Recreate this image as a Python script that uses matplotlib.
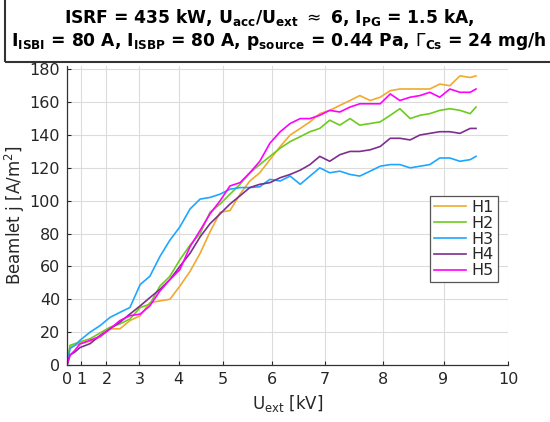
import numpy as np
import matplotlib
matplotlib.use('Agg')
import matplotlib.pyplot as plt
from matplotlib.patches import Rectangle

# Extraction voltage grid (kV)
u_ext = [0.00, 0.36, 0.69, 0.95, 1.40, 1.78, 2.12, 2.43, 2.73, 3.02,
         3.28, 3.54, 3.79, 4.03, 4.27, 4.50, 4.72, 4.94, 5.15, 5.36,
         5.56, 5.76, 5.96, 6.16, 6.35, 6.54, 6.72, 6.90, 7.08, 7.26,
         7.44, 7.61, 7.79, 7.96, 8.13, 8.29, 8.46, 8.62, 8.78, 8.94,
         9.10, 9.26, 9.42, 9.51]

# Beamlet current density (A/m^2) per beamlet
h1 = [0, 11, 12, 13, 14.5, 17, 22, 22, 27, 30,
      38, 39, 40, 48, 57, 68, 81, 93, 94, 104,
      112, 117, 125, 133, 140, 144, 148, 153, 155, 158,
      161, 164, 161, 163, 167, 168, 168, 168, 168, 171,
      170, 176, 175, 176]
h2 = [0, 12, 13, 14, 16, 19.5, 23, 25, 28, 35,
      37, 48, 54, 64, 73, 80, 93, 98, 104, 110,
      117, 122, 127, 132, 136, 139, 142, 144, 149, 146,
      150, 146, 147, 148, 152, 156, 150, 152, 153, 155,
      156, 155, 153, 157]
h3 = [0, 10, 12, 15, 20, 24, 29, 32, 35, 49,
      54, 66, 76, 84, 95, 101, 102, 104, 107, 108,
      108, 108.5, 113, 112, 115, 110, 115, 120, 117, 118,
      116, 115, 118, 121, 122, 122, 120, 121, 122, 126,
      126, 124, 125, 127]
h4 = [0, 6, 8, 10.6, 13, 18, 22, 26, 31, 36,
      41, 46, 52, 60, 68, 78, 86, 92, 98, 103,
      108, 110, 111, 114, 116, 118.6, 122, 127, 124, 128,
      130, 130, 131, 133, 138, 138, 137, 140, 141, 142,
      142, 141, 144, 144]
h5 = [0, 6, 9, 12.8, 15, 17.5, 22, 27, 30, 31,
      36, 45, 52, 58, 72, 82, 92, 100, 109, 111,
      117, 124, 135, 142, 147, 150, 150, 152, 155, 154,
      157, 159, 159, 159, 165, 161, 163, 164, 166, 163,
      168, 166, 166, 168]

series = [('H1', h1, '#F0AA2E'), ('H2', h2, '#6CCB1E'), ('H3', h3, '#1FA6FF'),
          ('H4', h4, '#7D2E8E'), ('H5', h5, '#FF00FF')]

txt = '#262626'
plt.rcParams['font.family'] = 'DejaVu Sans'
plt.rcParams['mathtext.fontset'] = 'dejavusans'

fig = plt.figure(figsize=(5.5, 4.22), dpi=100)
ax = fig.add_axes([67/550, 1-365/422, 441/550, 299/422])

for name, vals, col in series:
    ax.plot(u_ext, vals, color=col, lw=1.2, label=name)

# x axis is linear in U^1.5
ax.set_xscale('function', functions=(lambda x: np.sign(x)*np.abs(x)**1.5,
                                     lambda x: np.sign(x)*np.abs(x)**(2/3)))
ax.set_xlim(0, 10)
ax.set_ylim(0, 182)
ax.set_xticks(range(0, 11))
ax.set_yticks(range(0, 181, 20))
ax.grid(True, color='#dcdcdc', lw=0.8)
ax.set_axisbelow(True)
for s in ['top', 'right']:
    ax.spines[s].set_visible(False)
for s in ['left', 'bottom']:
    ax.spines[s].set_color('#333333')
    ax.spines[s].set_linewidth(0.9)
ax.tick_params(direction='in', length=3, labelsize=11.5, colors=txt, pad=5)

ax.set_xlabel(r'U$_{\rm ext}$ [kV]', fontsize=12, color=txt, labelpad=4)
ax.set_ylabel(r'Beamlet j [A/m$^2$]', fontsize=12, color=txt, labelpad=2)

leg = ax.legend(loc='upper left', bbox_to_anchor=(0.823, 0.565), borderaxespad=0,
                fontsize=11.5, fancybox=False, framealpha=1, edgecolor='#555555',
                handlelength=2.0, handletextpad=0.35, labelspacing=0.05,
                borderpad=0.25)
leg.get_frame().set_linewidth(0.9)
for t in leg.get_texts():
    t.set_color(txt)

# title box
fig.patches.append(Rectangle((5/550, 1-62/422), 2, 1, transform=fig.transFigure,
                             fill=False, ec='#333333', lw=1.5, clip_on=False))
fig.text(0.49, 1-17/422,
         r'ISRF = 435 kW, U$_\mathbf{acc}$/U$_\mathbf{ext}$ $\approx$ 6, I$_\mathbf{PG}$ = 1.5 kA,',
         ha='center', va='center', fontsize=12.3, fontweight='bold', color='black')
fig.text(0.507, 1-41/422,
         r'I$_\mathbf{ISBI}$ = 80 A, I$_\mathbf{ISBP}$ = 80 A, p$_\mathbf{source}$ = 0.44 Pa, $\Gamma_\mathbf{Cs}$ = 24 mg/h',
         ha='center', va='center', fontsize=12.3, fontweight='bold', color='black')

fig.savefig('out.png', dpi=100)
